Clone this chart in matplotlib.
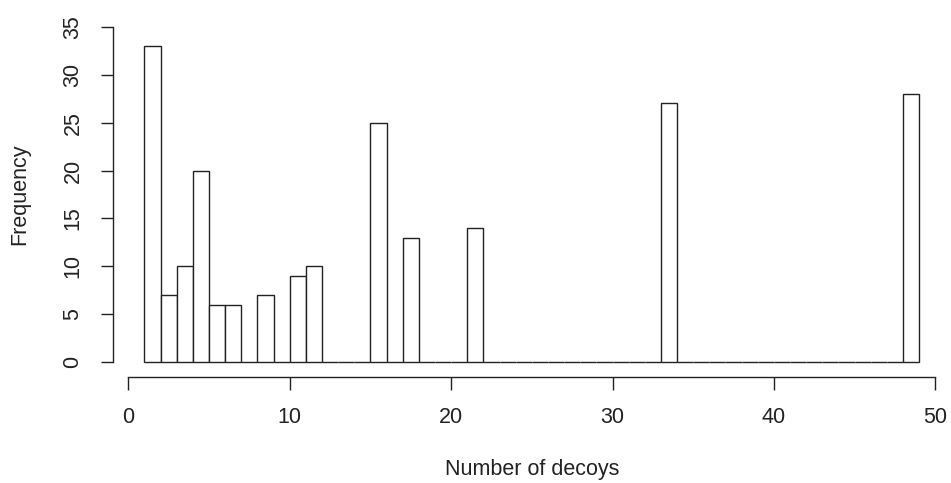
import matplotlib.pyplot as plt
import numpy as np

# Histogram of decoy counts, one-unit bins from 1 to 49
bin_edges = np.arange(1, 50)
counts = np.zeros(48)
filled_bins = [1, 2, 3, 4, 5, 6, 8, 10, 11, 15, 17, 21, 33, 48]
filled_counts = [33, 7, 10, 20, 6, 6, 7, 9, 10, 25, 13, 14, 27, 28]
counts[np.array(filled_bins) - 1] = filled_counts

x_ticks = [0, 10, 20, 30, 40, 50]
y_ticks = [0, 5, 10, 15, 20, 25, 30, 35]

plt.rcParams['font.family'] = ['Liberation Sans', 'DejaVu Sans']
ink = '#222222'

fig = plt.figure(figsize=(9.51, 4.83), dpi=100)
ax = fig.add_axes([0.1185, 0.2201, 0.8752, 0.7385])

ax.bar(bin_edges[:-1], counts, width=1, align='edge',
       facecolor='white', edgecolor=ink, linewidth=1.0)

ax.set_xlim(-0.967, 50.6)
ax.set_ylim(-1.50, 35.70)

# R-style detached axes
ax.spines['top'].set_visible(False)
ax.spines['right'].set_visible(False)
ax.spines['left'].set_bounds(0, 35)
ax.spines['bottom'].set_bounds(0, 50)
for s in ('left', 'bottom'):
    ax.spines[s].set_color(ink)
    ax.spines[s].set_linewidth(1.0)

ax.set_xticks(x_ticks)
ax.set_yticks(y_ticks)
ax.tick_params(axis='both', length=9, width=1.0, color=ink,
               labelsize=15.5, labelcolor=ink)
ax.tick_params(axis='x', pad=13)
ax.tick_params(axis='y', pad=12)
plt.setp(ax.get_yticklabels(), rotation=90, va='center')

fig.text(531.7 / 951, 1 - 470 / 483, 'Number of decoys', ha='center',
         va='center', fontsize=15.5, color=ink)
fig.text(20 / 951, 1 - 194.5 / 483, 'Frequency', ha='center', va='center',
         rotation=90, fontsize=15.5, color=ink)

fig.savefig('out.png', dpi=100)
